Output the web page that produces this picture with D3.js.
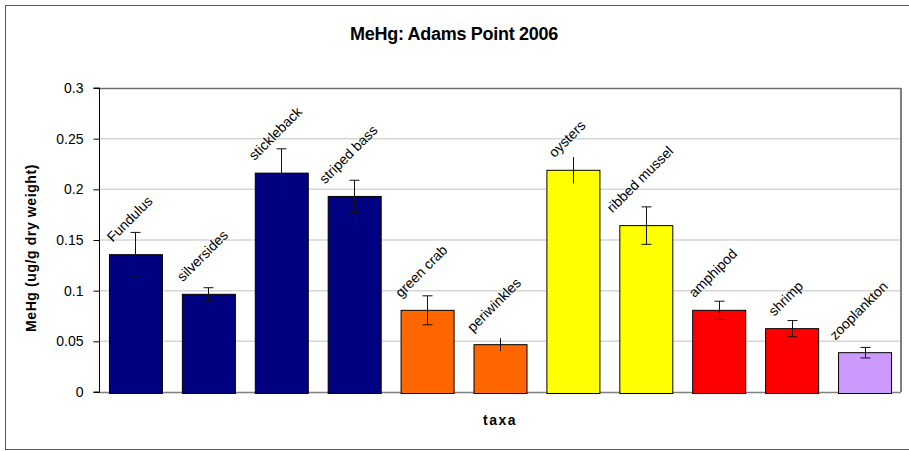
<!DOCTYPE html>
<html>
<head>
<meta charset="utf-8">
<script src="https://cdn.jsdelivr.net/npm/d3@7/dist/d3.min.js"></script>
<style>
  html, body { margin: 0; padding: 0; background: #fff; }
  svg { display: block; font-family: "Liberation Sans", Arial, sans-serif; }
</style>
</head>
<body>
<svg id="chart" width="909" height="451"></svg>
<script>
// ---- data ----
const categories = ["Fundulus", "silversides", "stickleback", "striped bass", "green crab",
  "periwinkles", "oysters", "ribbed mussel", "amphipod", "shrimp", "zooplankton"];
const groups = ["fish", "fish", "fish", "fish", "crab", "snail", "bivalve", "bivalve",
  "crustacean", "crustacean", "plankton"];
const meanValues = [0.1355, 0.0964, 0.216, 0.193, 0.0806, 0.0467, 0.2188, 0.1642, 0.0806, 0.0625, 0.0388];
const errorValues = [0.022, 0.0065, 0.024, 0.016, 0.0143, 0.0063, 0.013, 0.0185, 0.009, 0.008, 0.0052];
const yTicks = [0, 0.05, 0.1, 0.15, 0.2, 0.25, 0.3];

// ---- style ----
const groupColors = { fish: "#000080", crab: "#FF6600", snail: "#FF6600", bivalve: "#FFFF00",
  crustacean: "#FF0000", plankton: "#CC99FF" };
const noCap = new Set(["periwinkles", "oysters"]);

const svg = d3.select("#chart");
const W = 909, H = 451;
const plot = { left: 99, right: 901, top: 88, bottom: 392 };

// outer border
svg.append("rect").attr("x", 5.5).attr("y", 5.5).attr("width", 920).attr("height", 444)
  .attr("fill", "#fff").attr("stroke", "#555").attr("stroke-width", 1);

const x = d3.scaleBand().domain(categories).range([plot.left, plot.right])
  .paddingInner(0.273).paddingOuter(0.1365);
const y = d3.scaleLinear().domain([0, 0.3]).range([plot.bottom, plot.top]);

// gridlines
svg.append("g").selectAll("line").data(yTicks.filter(t => t > 0 && t < 0.3)).join("line")
  .attr("x1", plot.left).attr("x2", plot.right)
  .attr("y1", d => y(d)).attr("y2", d => y(d))
  .attr("stroke", "#d6d6d6").attr("stroke-width", 1.5);

// plot border (top, right, bottom)
svg.append("line").attr("x1", plot.left).attr("x2", plot.right).attr("y1", plot.top + 0.5).attr("y2", plot.top + 0.5)
  .attr("stroke", "#6e6e6e").attr("stroke-width", 1.5);
svg.append("line").attr("x1", plot.right).attr("x2", plot.right).attr("y1", plot.top).attr("y2", plot.bottom)
  .attr("stroke", "#808080").attr("stroke-width", 2);
svg.append("line").attr("x1", plot.left).attr("x2", plot.right).attr("y1", plot.bottom + 0.5).attr("y2", plot.bottom + 0.5)
  .attr("stroke", "#808080").attr("stroke-width", 1.5);

// bars
svg.append("g").selectAll("rect").data(categories).join("rect")
  .attr("x", d => x(d) + 0.5)
  .attr("y", (d, i) => y(meanValues[i]))
  .attr("width", x.bandwidth())
  .attr("height", (d, i) => plot.bottom + 1.5 - y(meanValues[i]))
  .attr("fill", (d, i) => groupColors[groups[i]])
  .attr("stroke", "#000").attr("stroke-width", 1);

// y axis
const yAxis = d3.axisLeft(y).tickValues(yTicks).tickSize(6).tickPadding(10)
  .tickFormat(d => d3.format("")(+d.toFixed(2)));
const gy = svg.append("g").attr("transform", `translate(${plot.left + 0.5},0)`).call(yAxis);
gy.select(".domain").attr("stroke", "#000").attr("d", `M-6,${y(0.3)}H0V${y(0)}H-6`);
gy.selectAll(".tick line").attr("stroke", "#000");
gy.selectAll(".tick text").attr("font-size", 14).attr("fill", "#000")
  .attr("font-family", "Liberation Sans, Arial, sans-serif");

// error bars
const eb = svg.append("g").attr("stroke", "#111").attr("stroke-width", 1);
categories.forEach((c, i) => {
  const cx = Math.round(x(c) + x.bandwidth() / 2) + 0.5;
  const hi = y(meanValues[i] + errorValues[i]);
  const lo = y(meanValues[i] - errorValues[i]);
  eb.append("line").attr("x1", cx).attr("x2", cx).attr("y1", hi).attr("y2", lo);
  if (!noCap.has(c)) {
    eb.append("line").attr("x1", cx - 5).attr("x2", cx + 5).attr("y1", hi).attr("y2", hi);
    eb.append("line").attr("x1", cx - 5).attr("x2", cx + 5).attr("y1", lo).attr("y2", lo);
  }
});

// rotated category labels
const lab = svg.append("g");
categories.forEach((c, i) => {
  const cx = x(c) + x.bandwidth() / 2 - 6;
  const t = lab.append("text").text(c).attr("font-size", 14).attr("fill", "#000")
    .attr("text-anchor", "middle").attr("dominant-baseline", "central");
  const L = t.node().getComputedTextLength();
  const half = (L / 2 + 5) * Math.SQRT1_2;
  const cy = y(meanValues[i]) - 12 - half;
  t.attr("transform", `translate(${cx},${cy}) rotate(-45)`);
});

// title
svg.append("text").attr("x", 454).attr("y", 40).attr("text-anchor", "middle")
  .attr("font-size", 18).attr("font-weight", "bold").attr("letter-spacing", -0.3)
  .text("MeHg: Adams Point 2006");

// x axis title
svg.append("text").attr("x", 500).attr("y", 425).attr("text-anchor", "middle")
  .attr("font-size", 14).attr("font-weight", "bold").attr("letter-spacing", 1.5)
  .text("taxa");

// y axis title
svg.append("text").attr("transform", `translate(36,248) rotate(-90)`).attr("text-anchor", "middle")
  .attr("font-size", 14).attr("font-weight", "bold").attr("letter-spacing", 0.6)
  .text("MeHg (ug/g dry weight)");
</script>
</body>
</html>
